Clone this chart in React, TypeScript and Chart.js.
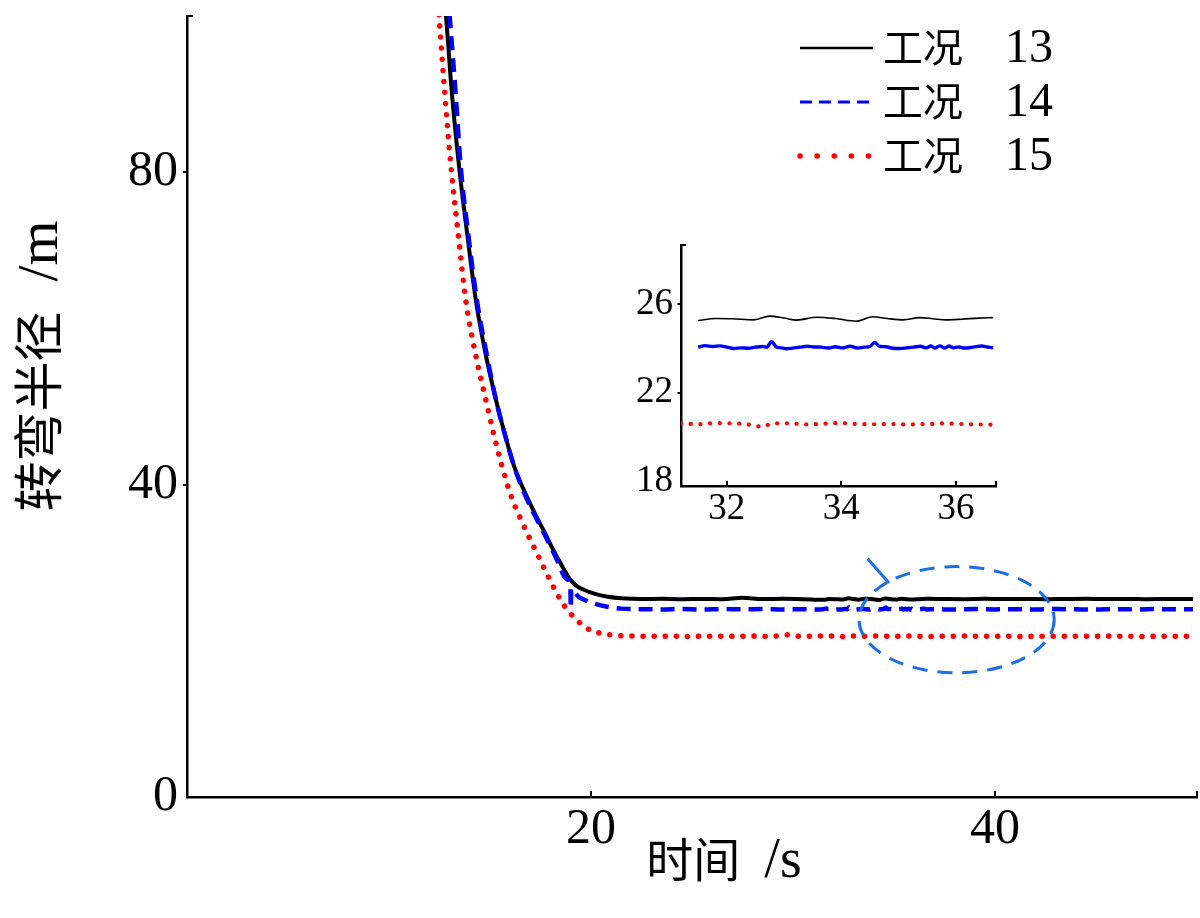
import React, { useEffect, useRef } from "react";
import { Chart, registerables } from "chart.js";

Chart.register(...registerables);

// ---- data: turning radius (m) against time (s) ----
const CASE13_T = [12.7, 12.82, 13.1, 13.47, 13.9, 14.3, 14.8, 15.3, 15.75, 16.2, 16.87, 17.3, 17.7, 18.1, 18.5, 18.93, 19.3, 19.67, 20.2, 20.83, 21.5, 22.5, 23.5, 24.5, 25.5, 26.5, 27.5, 28.5, 29.5, 30.5, 31.5, 31.8, 32.1, 32.46, 32.75, 33.0, 33.22, 33.57, 33.9, 34.26, 34.55, 34.8, 35.08, 35.37, 35.6, 35.83, 36.1, 36.4, 36.65, 37.5, 38.5, 39.5, 40.5, 41.5, 42.5, 43.5, 44.5, 45.5, 46.5, 47.5, 48.5, 49.8];
const CASE13_R = [103, 100, 90.5, 80.7, 71.5, 63.6, 56.5, 50.8, 46.3, 42.3, 38.2, 35.9, 33.9, 31.8, 29.9, 28.0, 27.0, 26.5, 26.0, 25.65, 25.45, 25.35, 25.38, 25.33, 25.36, 25.32, 25.5, 25.34, 25.37, 25.33, 25.25, 25.34, 25.33, 25.28, 25.45, 25.36, 25.27, 25.4, 25.34, 25.22, 25.42, 25.34, 25.28, 25.38, 25.33, 25.28, 25.31, 25.36, 25.38, 25.35, 25.33, 25.37, 25.34, 25.36, 25.33, 25.35, 25.37, 25.34, 25.36, 25.33, 25.35, 25.36];

const CASE14_T = [12.9, 13.0, 13.3, 13.55, 13.95, 14.35, 14.85, 15.3, 15.75, 16.2, 16.85, 17.25, 17.65, 18.05, 18.4, 18.75, 18.98, 19.0, 19.02, 19.4, 19.8, 20.1, 20.8, 21.5, 22.5, 23.5, 24.5, 25.5, 26.5, 27.5, 28.5, 29.5, 30.5, 31.0,
  31.5, 31.62, 31.75, 31.88, 32.0, 32.12, 32.25, 32.38, 32.5, 32.62, 32.7, 32.78, 32.86, 32.95, 33.05, 33.15, 33.28, 33.4, 33.52, 33.65, 33.78, 33.9, 34.02, 34.15, 34.28, 34.4, 34.5, 34.58, 34.66, 34.78, 34.9, 35.02, 35.14, 35.26, 35.38, 35.48, 35.56, 35.64, 35.72, 35.8, 35.88, 35.96, 36.05, 36.15, 36.3, 36.45, 36.55, 36.65,
  37.0, 38.0, 39.0, 40.0, 41.0, 42.0, 43.0, 44.0, 45.0, 46.0, 47.0, 48.0, 49.0, 49.8];
const CASE14_R = [103, 100, 90.0, 80.7, 71.5, 63.6, 56.5, 50.8, 46.3, 42.3, 38.0, 35.9, 33.9, 31.8, 29.9, 28.0, 26.9, 24.2, 26.6, 25.6, 25.1, 24.8, 24.35, 24.12, 24.05, 24.02, 24.08, 24.0, 24.06, 24.03, 24.07, 24.0, 24.05, 24.02,
  24.05, 24.12, 24.08, 24.11, 24.05, 23.99, 24.02, 24.0, 24.05, 24.08, 24.05, 24.3, 24.07, 24.02, 23.98, 24.01, 24.05, 24.09, 24.06, 24.05, 24.01, 24.07, 24.02, 24.09, 24.01, 24.05, 24.08, 24.26, 24.1, 24.07, 24.0, 23.99, 24.02, 24.05, 24.09, 24.02, 24.1, 24.01, 24.11, 24.01, 24.1, 24.02, 24.06, 24.01, 24.05, 24.1, 24.06, 24.02,
  24.04, 24.0, 24.06, 24.02, 24.05, 24.01, 24.07, 24.03, 24.0, 24.05, 24.02, 24.06, 24.03, 24.04];

const CASE15_T = [12.4, 12.48, 12.75, 13.07, 13.45, 13.8, 14.3, 14.8, 15.2, 15.6, 16.12, 16.45, 16.8, 17.25, 17.7, 18.2, 18.7, 19.2, 19.8, 20.4, 21.2, 22.0, 23.0, 24.0, 25.0, 26.0, 27.0, 28.0, 29.0, 29.6, 30.2, 30.7, 31.2, 31.5, 31.8, 32.1, 32.4, 32.62, 32.8, 33.1, 33.4, 33.7, 34.0, 34.3, 34.6, 34.9, 35.2, 35.5, 35.8, 36.1, 36.4, 36.65, 37.5, 38.5, 39.5, 40.5, 41.5, 42.5, 43.5, 44.5, 45.5, 46.5, 47.5, 48.5, 49.8];
const CASE15_R = [103, 100, 90.5, 80.7, 71.5, 63.6, 56.5, 50.8, 46.3, 42.3, 38.0, 36.0, 34.0, 31.6, 29.2, 26.6, 24.4, 22.9, 21.6, 21.0, 20.7, 20.62, 20.57, 20.6, 20.56, 20.59, 20.57, 20.6, 20.56, 20.78, 20.6, 20.58, 20.63, 20.58, 20.63, 20.62, 20.56, 20.47, 20.62, 20.62, 20.57, 20.61, 20.63, 20.59, 20.58, 20.59, 20.57, 20.59, 20.62, 20.59, 20.57, 20.56, 20.58, 20.6, 20.57, 20.59, 20.56, 20.6, 20.58, 20.57, 20.6, 20.58, 20.56, 20.59, 20.58];

const SERIES_LABELS = ["工况 13", "工况 14", "工况 15"];

// ---- axes ----
const X_RANGE = [0, 50];
const Y_RANGE = [0, 100];
const X_TICKS = [20, 40];
const Y_TICKS = [0, 40, 80];
const X_TITLE = "时间 /s";
const Y_TITLE = "转弯半径 /m";

// zoomed window
const INSET_X_RANGE = [31.2, 36.7];
const INSET_Y_RANGE = [17.8, 28.65];
const INSET_X_TICKS = [32, 34, 36];
const INSET_Y_TICKS = [18, 22, 26];
const INSET_WINDOW = [31.2, 36.65];

// highlighted region: dashed ellipse plus its leader line (data units)
const MARK_ELLIPSE = { cx: 38.1, cy: 22.7, rx: 4.83, ry: 6.8 };
const MARK_LEADER = [[33.7, 30.5], [34.75, 27.4]];

// ---- styles ----
const FONT_SERIF = "'Liberation Serif', 'Times New Roman', serif";
const FONT_CJK = "'Noto Sans CJK SC', 'Noto Sans CJK JP', sans-serif";
const MARK_COLOR = "#1a6ee6";
const AXIS_WIDTH = 2.5;

type LineStyle = { color: string; width: number; dash: number[]; cap: CanvasLineCap };
type SeriesStyle = { main: LineStyle; inset: LineStyle; key: LineStyle };

const STYLES: SeriesStyle[] = [
  {
    main: { color: "#000000", width: 4, dash: [], cap: "butt" },
    inset: { color: "#000000", width: 1.6, dash: [], cap: "butt" },
    key: { color: "#000000", width: 2.6, dash: [], cap: "butt" },
  },
  {
    main: { color: "#0000ff", width: 4.5, dash: [14, 8], cap: "butt" },
    inset: { color: "#0000ff", width: 3.4, dash: [], cap: "butt" },
    key: { color: "#0000ff", width: 3, dash: [12, 7], cap: "butt" },
  },
  {
    main: { color: "#ff0000", width: 5.5, dash: [0.1, 11], cap: "round" },
    inset: { color: "#ff0000", width: 4.2, dash: [0.1, 9.6], cap: "round" },
    key: { color: "#ff0000", width: 5.5, dash: [0.1, 17], cap: "round" },
  },
];

const SERIES_T = [CASE13_T, CASE14_T, CASE15_T];
const SERIES_R = [CASE13_R, CASE14_R, CASE15_R];

const toPoints = (t: number[], r: number[]) => t.map((x, i) => ({ x, y: r[i] }));

// ---- mixed CJK / Latin text ----
type Run = { text: string; kind: "cjk" | "latin" | "space" };
type MixedFont = { cjk: number; latin: number; gap: number };

function toRuns(text: string): Run[] {
  const runs: Run[] = [];
  for (const ch of text) {
    const kind: Run["kind"] = ch === " " ? "space" : /[\u2E80-\u9FFF\uF900-\uFAFF\uFF00-\uFFEF]/.test(ch) ? "cjk" : "latin";
    const last = runs[runs.length - 1];
    if (last && last.kind === kind) last.text += ch;
    else runs.push({ text: ch, kind });
  }
  return runs;
}

function runFont(kind: Run["kind"], f: MixedFont) {
  return kind === "cjk" ? `${f.cjk}px ${FONT_CJK}` : `${f.latin}px ${FONT_SERIF}`;
}

function measureMixed(ctx: CanvasRenderingContext2D, text: string, f: MixedFont) {
  let w = 0;
  for (const r of toRuns(text)) {
    if (r.kind === "space") { w += f.gap * r.text.length; continue; }
    ctx.font = runFont(r.kind, f);
    w += ctx.measureText(r.text).width;
  }
  return w;
}

function drawMixed(ctx: CanvasRenderingContext2D, text: string, x: number, y: number, f: MixedFont) {
  ctx.textAlign = "left";
  ctx.textBaseline = "alphabetic";
  let cx = x;
  for (const r of toRuns(text)) {
    if (r.kind === "space") { cx += f.gap * r.text.length; continue; }
    ctx.font = runFont(r.kind, f);
    ctx.fillText(r.text, cx, y);
    cx += ctx.measureText(r.text).width;
  }
}

function strokeStyle(ctx: CanvasRenderingContext2D, s: LineStyle) {
  ctx.strokeStyle = s.color;
  ctx.lineWidth = s.width;
  ctx.setLineDash(s.dash);
  ctx.lineCap = s.cap;
}

// small tick marks: x ticks point into the plot, y ticks point outward
function drawAxisMarks(chart: any, xTicks: number[], yTicks: number[], len: number) {
  const { ctx, chartArea: a, scales } = chart;
  ctx.save();
  ctx.strokeStyle = "#000";
  ctx.lineWidth = 2;
  ctx.setLineDash([]);
  ctx.beginPath();
  for (const v of xTicks) {
    const px = Math.round(scales.x.getPixelForValue(v));
    ctx.moveTo(px, a.bottom);
    ctx.lineTo(px, a.bottom - len);
  }
  for (const v of yTicks) {
    const py = Math.round(scales.y.getPixelForValue(v));
    ctx.moveTo(a.left, py);
    ctx.lineTo(a.left - len * 0.7, py);
  }
  ctx.moveTo(a.left - 1, a.top);
  ctx.lineTo(a.left + len, a.top);
  ctx.moveTo(a.right, a.bottom + 1);
  ctx.lineTo(a.right, a.bottom - len);
  ctx.stroke();
  ctx.restore();
}

function makeDatasets(kind: "main" | "inset") {
  return SERIES_LABELS.map((label, i) => {
    const s = kind === "main" ? STYLES[i].main : STYLES[i].inset;
    let pts = toPoints(SERIES_T[i], SERIES_R[i]);
    if (kind === "inset") pts = pts.filter((p) => p.x >= INSET_WINDOW[0] && p.x <= INSET_WINDOW[1]);
    return {
      label,
      data: pts,
      borderColor: s.color,
      borderWidth: s.width,
      borderDash: s.dash,
      borderCapStyle: s.cap,
      borderJoinStyle: "round" as CanvasLineJoin,
      pointRadius: 0,
      fill: false,
      cubicInterpolationMode: "monotone" as const,
      order: 3 - i,
    };
  });
}

function axisOptions(opts: {
  min: number; max: number; ticks: number[]; size: number; fontSize: number; padding: number; horizontal: boolean;
}) {
  return {
    type: "linear" as const,
    min: opts.min,
    max: opts.max,
    afterBuildTicks: (s: any) => { s.ticks = opts.ticks.map((v) => ({ value: v })); },
    afterFit: (s: any) => {
      if (opts.horizontal) s.height = opts.size; else s.width = opts.size;
      // the plot box is fixed, so tick labels may overhang it
      s.paddingTop = 0; s.paddingBottom = 0; s.paddingLeft = 0; s.paddingRight = 0;
    },
    grid: { display: false, drawTicks: false },
    border: { display: true, color: "#000", width: AXIS_WIDTH },
    ticks: {
      color: "#000",
      padding: opts.padding,
      maxRotation: 0,
      autoSkip: false,
      font: { family: FONT_SERIF, size: opts.fontSize, lineHeight: 1 },
    },
  };
}

const mainDecor = {
  id: "mainDecor",
  afterDatasetsDraw(chart: any) {
    const { ctx, scales: { x, y } } = chart;
    ctx.save();
    ctx.strokeStyle = MARK_COLOR;
    ctx.lineWidth = 3;
    ctx.lineCap = "butt";
    ctx.setLineDash([15, 10]);
    const cx = x.getPixelForValue(MARK_ELLIPSE.cx);
    const cy = y.getPixelForValue(MARK_ELLIPSE.cy);
    const rx = Math.abs(x.getPixelForValue(MARK_ELLIPSE.cx + MARK_ELLIPSE.rx) - cx);
    const ry = Math.abs(y.getPixelForValue(MARK_ELLIPSE.cy + MARK_ELLIPSE.ry) - cy);
    ctx.beginPath();
    ctx.ellipse(cx, cy, rx, ry, 0, 0, Math.PI * 2);
    ctx.stroke();
    ctx.setLineDash([]);
    ctx.beginPath();
    ctx.moveTo(x.getPixelForValue(MARK_LEADER[0][0]), y.getPixelForValue(MARK_LEADER[0][1]));
    ctx.lineTo(x.getPixelForValue(MARK_LEADER[1][0]), y.getPixelForValue(MARK_LEADER[1][1]));
    ctx.stroke();
    ctx.restore();
  },
  afterDraw(chart: any) {
    const { ctx } = chart;
    drawAxisMarks(chart, X_TICKS, Y_TICKS.filter((v) => v > 0), 6);

    ctx.save();
    ctx.fillStyle = "#000";

    // legend
    const keyLeft = 800, keyRight = 873, textLeft = 883;
    const baselines = [62, 116, 170];
    const keyFont: MixedFont = { cjk: 40, latin: 48, gap: 42 };
    SERIES_LABELS.forEach((label, i) => {
      const ly = baselines[i] - 14;
      strokeStyle(ctx, STYLES[i].key);
      ctx.beginPath();
      ctx.moveTo(keyLeft, ly);
      ctx.lineTo(keyRight, ly);
      ctx.stroke();
      ctx.setLineDash([]);
      drawMixed(ctx, label, textLeft, baselines[i], keyFont);
    });

    // axis titles
    const xTitleFont: MixedFont = { cjk: 47, latin: 56, gap: 24 };
    const xw = measureMixed(ctx, X_TITLE, xTitleFont);
    drawMixed(ctx, X_TITLE, 724 - xw / 2, 877, xTitleFont);

    const yTitleFont: MixedFont = { cjk: 50, latin: 58, gap: 30 };
    const yw = measureMixed(ctx, Y_TITLE, yTitleFont);
    ctx.translate(57, 366);
    ctx.rotate(-Math.PI / 2);
    drawMixed(ctx, Y_TITLE, -yw / 2, 0, yTitleFont);
    ctx.restore();
  },
};

const insetDecor = {
  id: "insetDecor",
  afterDraw(chart: any) {
    drawAxisMarks(chart, INSET_X_TICKS, INSET_Y_TICKS.filter((v) => v > INSET_Y_RANGE[0] + 0.5), 5);
  },
};

export default function App() {
  const mainRef = useRef<HTMLCanvasElement | null>(null);
  const insetRef = useRef<HTMLCanvasElement | null>(null);

  useEffect(() => {
    if (!mainRef.current || !insetRef.current) return;

    const main = new Chart(mainRef.current, {
      type: "line",
      data: { datasets: makeDatasets("main") as any },
      options: {
        responsive: false,
        animation: false,
        devicePixelRatio: 1,
        events: [],
        layout: { padding: { top: 16, right: 3, left: 0, bottom: 0 } },
        plugins: { legend: { display: false }, tooltip: { enabled: false } },
        scales: {
          x: axisOptions({ min: X_RANGE[0], max: X_RANGE[1], ticks: X_TICKS, size: 121, fontSize: 50, padding: 8, horizontal: true }),
          y: axisOptions({ min: Y_RANGE[0], max: Y_RANGE[1], ticks: Y_TICKS, size: 187, fontSize: 50, padding: 9, horizontal: false }),
        },
      },
      plugins: [mainDecor],
    });

    const inset = new Chart(insetRef.current, {
      type: "line",
      data: { datasets: makeDatasets("inset") as any },
      options: {
        responsive: false,
        animation: false,
        devicePixelRatio: 1,
        events: [],
        layout: { padding: { top: 15, right: 14, left: 0, bottom: 0 } },
        plugins: { legend: { display: false }, tooltip: { enabled: false } },
        scales: {
          x: axisOptions({ min: INSET_X_RANGE[0], max: INSET_X_RANGE[1], ticks: INSET_X_TICKS, size: 54, fontSize: 37, padding: 5, horizontal: true }),
          y: axisOptions({ min: INSET_Y_RANGE[0], max: INSET_Y_RANGE[1], ticks: INSET_Y_TICKS, size: 81, fontSize: 37, padding: 8, horizontal: false }),
        },
      },
      plugins: [insetDecor],
    });

    return () => {
      main.destroy();
      inset.destroy();
    };
  }, []);

  return (
    <div style={{ position: "absolute", left: 0, top: 0, width: 1200, height: 918, background: "#fff" }}>
      <canvas ref={mainRef} width={1200} height={918} style={{ position: "absolute", left: 0, top: 0 }} />
      <canvas ref={insetRef} width={410} height={310} style={{ position: "absolute", left: 600, top: 230 }} />
    </div>
  );
}
